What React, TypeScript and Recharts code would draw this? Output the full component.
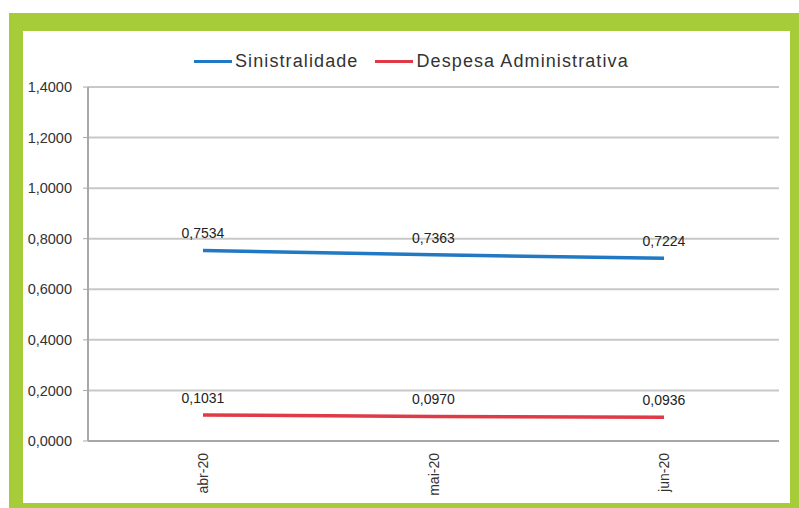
import { LineChart, Line, XAxis, YAxis, CartesianGrid, LabelList } from 'recharts'

const months = ['abr-20', 'mai-20', 'jun-20']
const sinistralidade = [0.7534, 0.7363, 0.7224]
const despesaAdm = [0.1031, 0.097, 0.0936]
const yTicks = [0, 0.2, 0.4, 0.6, 0.8, 1.0, 1.2, 1.4]

const data = months.map((m, i) => ({
  month: m,
  sin: sinistralidade[i],
  desp: despesaAdm[i],
}))

const FONT = '"Liberation Sans", Arial, sans-serif'
const BLUE = '#2079c2'
const RED = '#df3a45'
const GREEN = '#a6cd39'

const fmt = (v: number) => v.toFixed(4).replace('.', ',')

function LegendBox() {
  const items = [
    { label: 'Sinistralidade', color: BLUE },
    { label: 'Despesa Administrativa', color: RED },
  ]
  return (
    <div style={{ position: 'absolute', left: 194, top: 51, display: 'flex', alignItems: 'center', fontFamily: FONT, fontSize: 18, letterSpacing: 1.1, color: '#333' }}>
      {items.map((it, i) => (
        <div key={i} style={{ display: 'flex', alignItems: 'center', marginRight: i === 0 ? 17 : 0 }}>
          <span style={{ display: 'inline-block', width: 38, height: 3, background: it.color, marginRight: 3 }} />
          <span>{it.label}</span>
        </div>
      ))}
    </div>
  )
}

function XTick(props: any) {
  const { x, y, payload } = props
  return (
    <text
      x={x}
      y={y}
      transform={`rotate(-90, ${x}, ${y})`}
      textAnchor="end"
      dy={5}
      dx={-4}
      fontSize={14}
      fontFamily={FONT}
      fill="#333"
    >
      {payload.value}
    </text>
  )
}

export default function App() {
  return (
    <div style={{ position: 'absolute', left: 0, top: 0, width: 799, height: 508, background: '#fff' }}>
      <div style={{ position: 'absolute', left: 9, top: 13, width: 790, height: 495, background: GREEN }} />
      <div style={{ position: 'absolute', left: 23, top: 31, width: 767, height: 472, background: '#fff' }} />
      <LegendBox />
      <div style={{ position: 'absolute', left: 0, top: 0 }}>
        <LineChart width={799} height={508} data={data} margin={{ top: 87, right: 20, bottom: 17, left: 28 }}>
          <CartesianGrid vertical={false} stroke="#c8c8c8" strokeWidth={2} />
          <XAxis
            dataKey="month"
            padding={{ left: 115, right: 115 }}
            height={50}
            tick={<XTick />}
            tickLine={false}
            axisLine={{ stroke: '#a8a8a8', strokeWidth: 2 }}
            interval={0}
          />
          <YAxis
            domain={[0, 1.4]}
            ticks={yTicks}
            width={60}
            tickFormatter={fmt}
            tick={{ fontSize: 14.5, fontFamily: FONT, fill: '#333', dx: -9 }}
            tickLine={{ stroke: '#a8a8a8' }}
            tickSize={5}
            axisLine={{ stroke: '#a8a8a8', strokeWidth: 2 }}
            interval={0}
          />
          <Line
            type="linear"
            dataKey="sin"
            name="Sinistralidade"
            stroke={BLUE}
            strokeWidth={3.5}
            dot={false}
            isAnimationActive={false}
          >
            <LabelList
              dataKey="sin"
              position="top"
              offset={12}
              formatter={(v: any) => fmt(Number(v))}
              style={{ fontSize: 14, fontFamily: FONT, fill: '#222' }}
            />
          </Line>
          <Line
            type="linear"
            dataKey="desp"
            name="Despesa Administrativa"
            stroke={RED}
            strokeWidth={3.5}
            dot={false}
            isAnimationActive={false}
          >
            <LabelList
              dataKey="desp"
              position="top"
              offset={12}
              formatter={(v: any) => fmt(Number(v))}
              style={{ fontSize: 14, fontFamily: FONT, fill: '#222' }}
            />
          </Line>
        </LineChart>
      </div>
    </div>
  )
}
